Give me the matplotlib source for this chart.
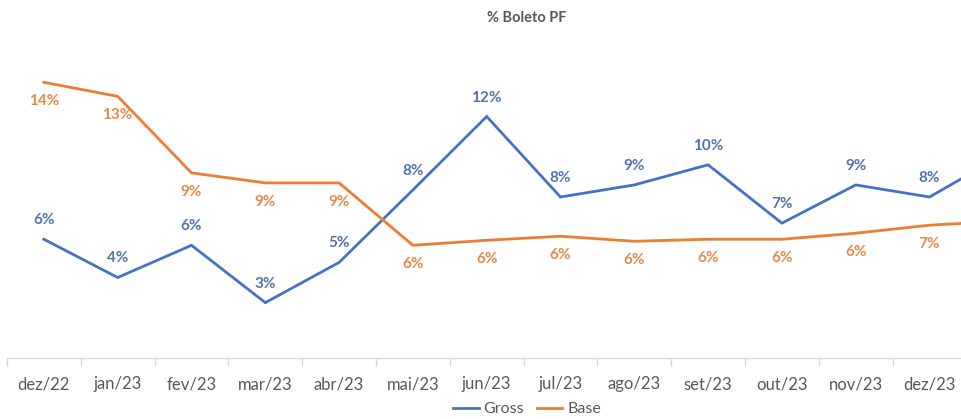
import matplotlib
matplotlib.use("Agg")
import matplotlib.pyplot as plt
from matplotlib.ticker import FixedLocator

plt.rcParams['font.family'] = ['Lato', 'DejaVu Sans']

categories = ["dez/22", "jan/23", "fev/23", "mar/23", "abr/23", "mai/23", "jun/23",
              "jul/23", "ago/23", "set/23", "out/23", "nov/23", "dez/23", "jan/24"]
gross = [5.9, 4.0, 5.6, 2.75, 4.75, 8.35, 12.0, 8.0, 8.6, 9.6, 6.7, 8.6, 8.0, 10.1]
base = [13.7, 13.0, 9.2, 8.7, 8.7, 5.6, 5.85, 6.05, 5.8, 5.9, 5.9, 6.2, 6.6, 6.8]

W, H = 961, 419
fig = plt.figure(figsize=(W / 100, H / 100), dpi=100)
left_px, right_px, bottom_px, top_px = 7, 961, 358, 36
ax = fig.add_axes([left_px / W, (H - bottom_px) / H,
                   (right_px - left_px) / W, (bottom_px - top_px) / H])

x = list(range(len(categories)))
blue = "#4472C4"
orange = "#ED7D31"
ax.plot(x, gross, color=blue, lw=2.0, label="Gross", solid_joinstyle="miter")
ax.plot(x, base, color=orange, lw=2.0, label="Base", solid_joinstyle="miter")

for i, v in enumerate(gross):
    ax.annotate(f"{round(v)}%", (i, v), xytext=(0, 19), textcoords="offset pixels",
                ha="center", va="center", fontsize=11, fontweight="bold",
                color="#5573AE")
for i, v in enumerate(base):
    ax.annotate(f"{round(v)}%", (i, v), xytext=(0, -19), textcoords="offset pixels",
                ha="center", va="center", fontsize=11, fontweight="bold",
                color="#E48A45")

for s in ["top", "right", "left"]:
    ax.spines[s].set_visible(False)
ax.spines["bottom"].set_color("#D9D9D9")
ax.spines["bottom"].set_linewidth(1.0)
ax.set_yticks([])
ax.set_xticks(x)
ax.set_xticklabels(categories, fontsize=12, color="#595959")
ax.tick_params(axis="x", which="major", length=0, pad=13)
ax.xaxis.set_minor_locator(FixedLocator([i - 0.5 for i in range(len(categories) + 1)]))
ax.tick_params(axis="x", which="minor", length=6, color="#D9D9D9", width=1.0)

span = (right_px - left_px) / 73.8
ax.set_xlim(-0.5, -0.5 + span)
ax.set_ylim(0, 16)

fig.text(527 / W, (H - 18) / H, "% Boleto PF", ha="center", va="center",
         fontsize=10.5, fontweight="bold", color="#595959")

fig.legend(loc="center", bbox_to_anchor=(527 / W, (H - 409) / H), ncol=2,
           frameon=False, fontsize=11.5, handlelength=1.6, handletextpad=0.3,
           columnspacing=0.8, labelcolor="#595959")

fig.savefig("out.png", dpi=100)
